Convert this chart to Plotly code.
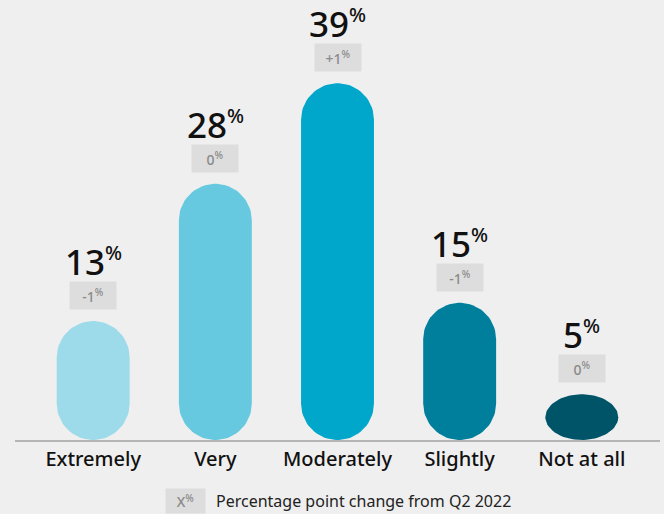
import numpy as np
import plotly.graph_objects as go

categories = ["Extremely", "Very", "Moderately", "Slightly", "Not at all"]
values = [13, 28, 39, 15, 5]
changes = ["-1", "0", "+1", "-1", "0"]
colors = ["#9ddbea", "#67c9df", "#00a7cb", "#007f9c", "#005468"]
legend_text = "Percentage point change from Q2 2022"

W, H = 664, 514
ML, MR, MT, MB = 15, 4, 10, 74
XMIN, XMAX = -0.64, 4.64
YMAX = 47.0
BAR_W = 0.597  # in category units
plot_w = W - ML - MR
plot_h = H - MT - MB
px_x = plot_w / (XMAX - XMIN)
px_y = plot_h / YMAX

BG = "#efefef"
FONT = "Noto Sans"

fig = go.Figure()

t_top = np.linspace(0, np.pi, 40)
t_bot = np.linspace(np.pi, 2 * np.pi, 40)
for i, (cat, v, c) in enumerate(zip(categories, values, colors)):
    hw = BAR_W / 2
    h_px = v * px_y
    r_px = min(hw * px_x, h_px / 2)
    ry = r_px / px_y
    xs = np.concatenate([i + hw * np.cos(t_top), i + hw * np.cos(t_bot)])
    ys = np.concatenate([v - ry + ry * np.sin(t_top), ry + ry * np.sin(t_bot)])
    xs = np.append(xs, xs[0])
    ys = np.append(ys, ys[0])
    fig.add_trace(go.Scatter(x=xs, y=ys, fill="toself", fillcolor=c,
                             mode="lines", line=dict(width=0, color=c),
                             hoverinfo="skip", showlegend=False))
    # change badge
    fig.add_annotation(x=i, y=v, xref="x", yref="y", yanchor="bottom",
                       yshift=11, text=f"{changes[i]}<sup><span style='font-size:10px'>%</span></sup>",
                       showarrow=False, bgcolor="#dddddd", width=40, height=21,
                       borderpad=3, font=dict(family=FONT, size=14, color="#8a8a8a", weight=500))
    # value label
    fig.add_annotation(x=i, y=v, xref="x", yref="y", yanchor="bottom",
                       yshift=34, text=f"{v}<sup><span style='font-size:20px'>%</span></sup>",
                       showarrow=False,
                       font=dict(family=FONT, size=35, color="#111111", weight=500))

# legend
fig.add_annotation(x=(185.5 - ML) / plot_w, y=(H - MB - 500.5) / plot_h,
                   xref="paper", yref="paper", xanchor="center", yanchor="middle",
                   text="X<sup><span style='font-size:10px'>%</span></sup>",
                   showarrow=False, bgcolor="#dddddd",
                   width=33, height=18, borderpad=3,
                   font=dict(family=FONT, size=14, color="#8a8a8a", weight=500))
fig.add_annotation(x=(214 - ML) / plot_w, y=(H - MB - 500.5) / plot_h,
                   xref="paper", yref="paper", xanchor="left", yanchor="middle",
                   text=legend_text, showarrow=False,
                   font=dict(family=FONT, size=16, color="#222222"))

fig.update_layout(
    width=W, height=H,
    margin=dict(l=ML, r=MR, t=MT, b=MB),
    paper_bgcolor=BG, plot_bgcolor=BG,
    xaxis=dict(range=[XMIN, XMAX], tickvals=list(range(len(categories))),
               ticktext=categories, showgrid=False, zeroline=False,
               showline=True, linecolor="#b5b5b5", linewidth=1.5,
               ticks="", tickfont=dict(family=FONT, size=20, color="#111111", weight=500)),
    yaxis=dict(range=[0, YMAX], visible=False, showgrid=False, zeroline=False),
    showlegend=False,
)

fig.write_html("out.html")
